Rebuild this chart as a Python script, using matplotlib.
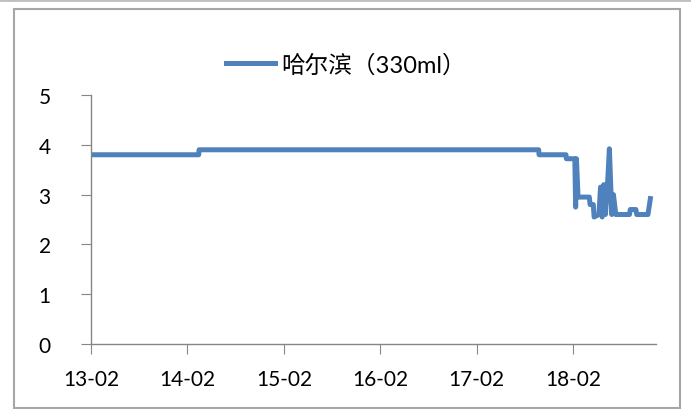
import matplotlib
matplotlib.use("Agg")
import matplotlib.pyplot as plt
from matplotlib.patches import Rectangle
from matplotlib.lines import Line2D

plt.rcParams['font.family'] = ['Lato', 'Noto Sans CJK SC', 'DejaVu Sans']

# months since 2013-02 and price (step points)
months = [0, 13.4, 13.45, 55.7, 55.75, 59.1, 59.15, 60.2, 60.3, 60.4, 60.6, 62.0, 62.1,
          62.5, 62.6, 63.2, 63.4, 63.6, 63.8, 64.0, 64.2, 64.5, 64.8, 65.0, 65.3,
          67.0, 67.1, 67.8, 67.9, 69.3, 69.6]
price = [3.8, 3.8, 3.9, 3.9, 3.8, 3.8, 3.72, 3.72, 2.75, 3.72, 2.95, 2.95, 2.8,
         2.8, 2.55, 2.6, 3.15, 2.55, 3.2, 2.6, 3.0, 3.92, 2.6, 3.0, 2.6,
         2.6, 2.7, 2.7, 2.6, 2.6, 2.92]

tick_pos = [0, 12, 24, 36, 48, 60]
tick_labels = ['13-02', '14-02', '15-02', '16-02', '17-02', '18-02']

fig = plt.figure(figsize=(6.91, 4.10), dpi=100)
ax = fig.add_axes([91 / 691, 65 / 410, 565 / 691, 249 / 410])

ax.plot(months, price, color='#4F81BD', lw=3.6, label='哈尔滨（330ml）',
        solid_joinstyle='round')

ax.set_xlim(0, 70.3)
ax.set_ylim(0, 5)
ax.set_yticks([0, 1, 2, 3, 4, 5])
ax.set_xticks(tick_pos)
ax.set_xticklabels(tick_labels)

for s in ['top', 'right']:
    ax.spines[s].set_visible(False)
for s in ['left', 'bottom']:
    ax.spines[s].set_color('#868686')
    ax.spines[s].set_linewidth(1.0)
ax.tick_params(axis='y', direction='out', length=7, color='#868686',
               labelsize=15, pad=22)
ax.tick_params(axis='x', direction='out', length=7, color='#868686',
               labelsize=15, pad=11)

ax.legend(loc='center', bbox_to_anchor=(0.451, 1.124), frameon=False,
          fontsize=17, handlelength=2.1, handletextpad=0.25)

fig.patches.append(Rectangle((14 / 691, 1 / 410), 666 / 691, 399 / 410,
                             transform=fig.transFigure, fill=False,
                             edgecolor='#A6A6A6', lw=1.5))
fig.lines.append(Line2D([0, 1], [409 / 410, 409 / 410], transform=fig.transFigure,
                        color='#BFBFBF', lw=2))

fig.savefig('out.png', dpi=100)
